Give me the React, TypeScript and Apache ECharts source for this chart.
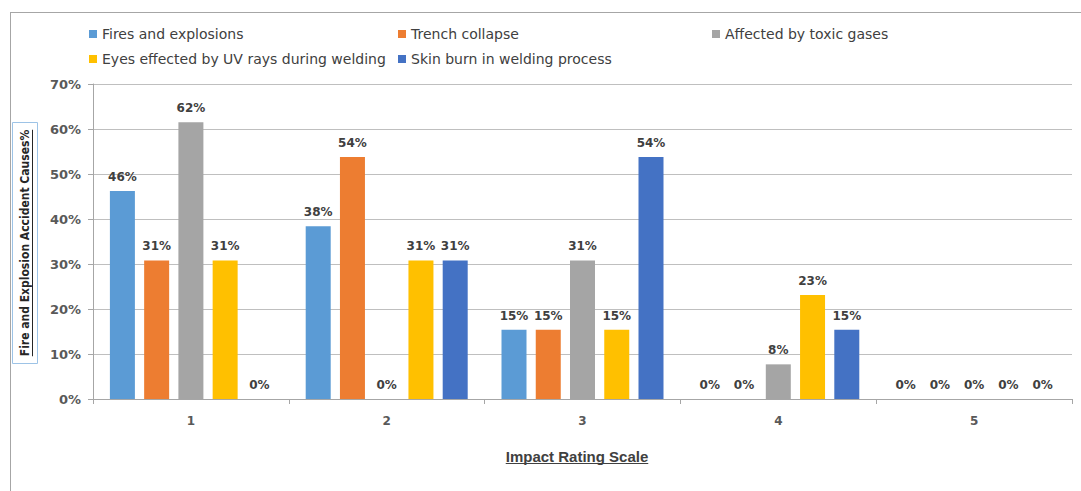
import React, { useEffect, useRef } from "react";
import * as echarts from "echarts";

const categories = ["1", "2", "3", "4", "5"];
const fires = [46.2, 38.4, 15.4, 0, 0];
const trench = [30.8, 53.8, 15.4, 0, 0];
const toxic = [61.5, 0, 30.8, 7.7, 0];
const eyes = [30.8, 30.8, 15.4, 23.1, 0];
const skin = [0, 30.8, 53.8, 15.4, 0];

const seriesNames = [
  "Fires and explosions",
  "Trench collapse",
  "Affected by toxic gases",
  "Eyes effected by UV rays during welding",
  "Skin burn in welding process",
];
const seriesData = [fires, trench, toxic, eyes, skin];
const colors = ["#5B9BD5", "#ED7D31", "#A5A5A5", "#FFC000", "#4472C4"];

const yTitle = "Fire and Explosion Accident Causes%";
const xTitle = "Impact Rating Scale";

function measure(text: string, font: string): number {
  const c = document.createElement("canvas").getContext("2d");
  if (!c) return text.length * 7;
  c.font = font;
  return c.measureText(text).width;
}

export default function App() {
  const ref = useRef<HTMLDivElement>(null);
  useEffect(() => {
    if (!ref.current) return;
    const chart = echarts.init(ref.current, null, { renderer: "svg" });
    const xFont = "bold 15px 'Liberation Sans'";
    const yFont = "bold 12px 'DejaVu Sans Condensed'";
    const xw = measure(xTitle, xFont);
    const yw = measure(yTitle, yFont);
    const legendText = {
      fontFamily: "DejaVu Sans",
      fontSize: 14,
      color: "#404040",
    };
    const legendBase = {
      orient: "vertical" as const,
      top: 22,
      itemGap: 11,
      itemWidth: 8,
      itemHeight: 8,
      icon: "rect",
      textStyle: legendText,
      selectedMode: false,
    };
    chart.setOption({
      animation: false,
      color: colors,
      legend: [
        { ...legendBase, left: 84, data: [seriesNames[0], seriesNames[3]] },
        { ...legendBase, left: 393, data: [seriesNames[1], seriesNames[4]] },
        { ...legendBase, left: 707, data: [seriesNames[2]] },
      ],
      grid: { left: 93, right: 9, top: 84, bottom: 92, containLabel: false },
      xAxis: {
        type: "category",
        data: categories,
        axisLine: { lineStyle: { color: "#a6a6a6" } },
        axisTick: { show: true, length: 5, lineStyle: { color: "#a6a6a6" } },
        axisLabel: {
          margin: 16,
          fontFamily: "DejaVu Sans",
          fontWeight: "bold",
          fontSize: 12,
          color: "#595959",
        },
      },
      yAxis: {
        type: "value",
        min: 0,
        max: 70,
        interval: 10,
        axisLine: { show: true, lineStyle: { color: "#a6a6a6" } },
        axisTick: { show: true, length: 5, lineStyle: { color: "#a6a6a6" } },
        splitLine: { lineStyle: { color: "#bfbfbf" } },
        axisLabel: {
          margin: 12,
          formatter: (v: number) => `${v}%`,
          fontFamily: "DejaVu Sans",
          fontWeight: "bold",
          fontSize: 13,
          color: "#595959",
        },
      },
      series: seriesNames.map((name, i) => ({
        name,
        type: "bar",
        data: seriesData[i],
        barWidth: 25,
        barGap: "37%",
        itemStyle: { color: colors[i] },
        label: {
          show: true,
          position: "top",
          distance: 8,
          formatter: (p: any) => `${Math.round(p.value)}%`,
          fontFamily: "DejaVu Sans",
          fontWeight: "bold",
          fontSize: 12,
          color: "#404040",
        },
      })),
      graphic: [
        {
          type: "line",
          shape: { x1: 10, y1: 12.5, x2: 1081, y2: 12.5 },
          style: { stroke: "#a6a6a6", lineWidth: 1 },
        },
        {
          type: "line",
          shape: { x1: 10.5, y1: 12, x2: 10.5, y2: 491 },
          style: { stroke: "#a6a6a6", lineWidth: 1 },
        },
        {
          type: "rect",
          shape: { x: 12.5, y: 122.5, width: 25, height: 241 },
          style: { fill: "none", stroke: "#9DC3E6", lineWidth: 1 },
        },
        {
          type: "text",
          x: 25,
          y: 243,
          rotation: Math.PI / 2,
          style: {
            text: yTitle,
            font: yFont,
            fill: "#262626",
            align: "center",
            verticalAlign: "middle",
          },
        },
        {
          type: "line",
          shape: { x1: 32.5, y1: 243 - yw / 2, x2: 32.5, y2: 243 + yw / 2 },
          style: { stroke: "#262626", lineWidth: 1 },
        },
        {
          type: "text",
          x: 577,
          y: 456,
          style: {
            text: xTitle,
            font: xFont,
            fill: "#404040",
            align: "center",
            verticalAlign: "middle",
          },
        },
        {
          type: "line",
          shape: { x1: 577 - xw / 2, y1: 463.5, x2: 577 + xw / 2, y2: 463.5 },
          style: { stroke: "#404040", lineWidth: 1 },
        },
      ],
    });
    return () => chart.dispose();
  }, []);
  return (
    <div
      ref={ref}
      style={{ position: "fixed", left: 0, top: 0, width: 1081, height: 491, background: "#fff" }}
    />
  );
}
